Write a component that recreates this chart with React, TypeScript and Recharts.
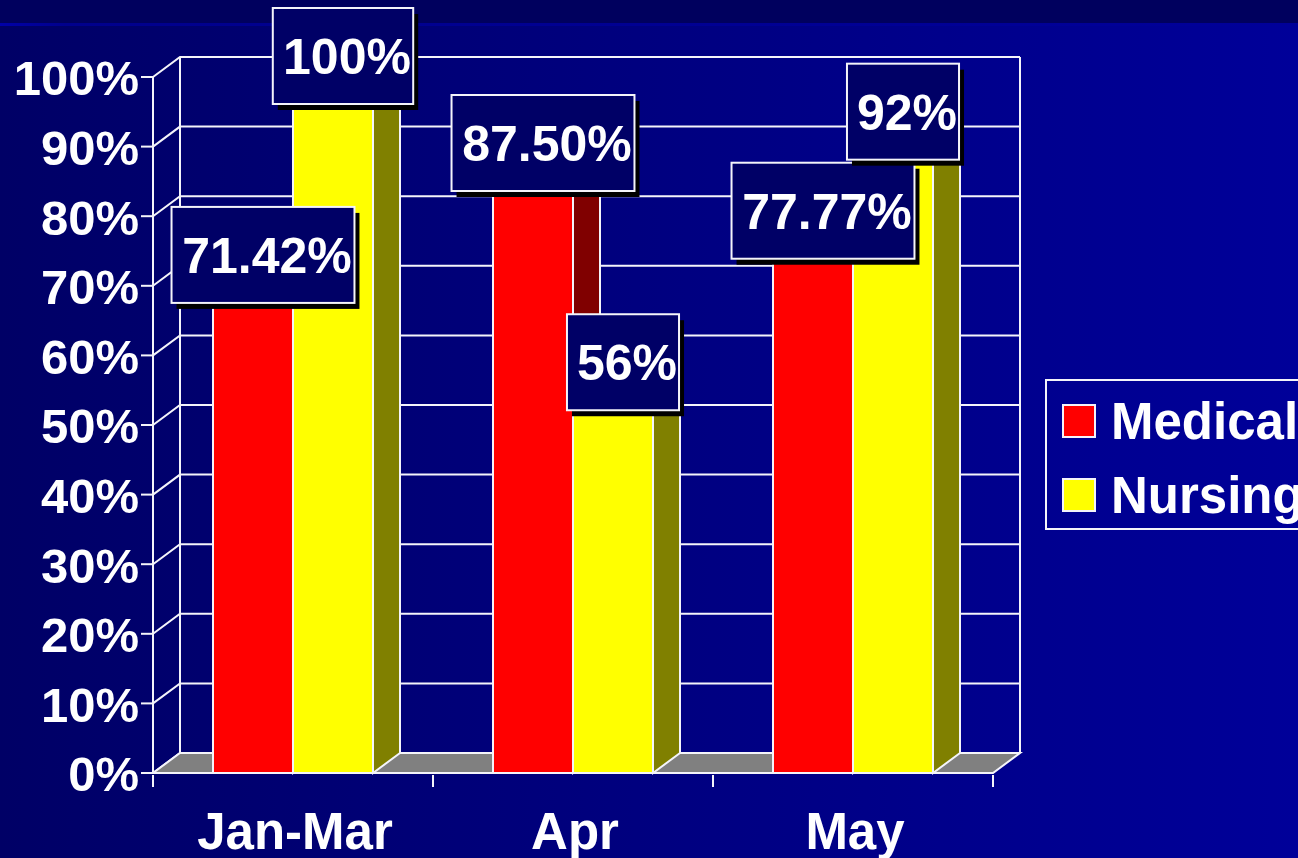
import {
  Bar,
  BarChart,
  CartesianGrid,
  LabelList,
  Legend,
  XAxis,
  YAxis,
  usePlotArea,
} from 'recharts'

const categories = ['Jan-Mar', 'Apr', 'May']
const medical = [71.42, 87.5, 77.77]
const nursing = [100, 56, 92]
const percentTicks = [0, 10, 20, 30, 40, 50, 60, 70, 80, 90, 100]

const data = categories.map((name, i) => ({ name, medical: medical[i], nursing: nursing[i] }))

const FONT = '"Liberation Sans", Arial, sans-serif'
const DEPTH_X = 27
const DEPTH_Y = 20
const LINE = '#f4f4fa'

function formatValue(value: number) {
  return Number.isInteger(value) ? `${value}%` : `${value.toFixed(2)}%`
}

function Floor() {
  const plot = usePlotArea()
  if (!plot) return null
  const left = plot.x
  const right = plot.x + plot.width
  const bottom = plot.y + plot.height
  const top = plot.y
  return (
    <g>
      <polygon
        points={`${left},${bottom} ${right},${bottom} ${right + DEPTH_X},${bottom - DEPTH_Y} ${left + DEPTH_X},${bottom - DEPTH_Y}`}
        fill="#808080"
        stroke={LINE}
        strokeWidth={2}
      />
      <line x1={left + DEPTH_X} x2={left + DEPTH_X} y1={top - DEPTH_Y} y2={bottom - DEPTH_Y} stroke={LINE} strokeWidth={2} />
      <line x1={right + DEPTH_X} x2={right + DEPTH_X} y1={top - DEPTH_Y} y2={bottom - DEPTH_Y} stroke={LINE} strokeWidth={2} />
    </g>
  )
}

// wall line: runs up the side wall, then along the back
function GridLine(props: any) {
  const { x1, x2, y1, y2 } = props
  return (
    <polyline
      points={`${x1},${y1} ${x1 + DEPTH_X},${y1 - DEPTH_Y} ${x2 + DEPTH_X},${y2 - DEPTH_Y}`}
      fill="none"
      stroke={LINE}
      strokeWidth={2}
    />
  )
}

function Bar3D(props: any) {
  const { x, y, width, height, fill, side } = props
  const r = x + width
  const b = y + height
  return (
    <g stroke={LINE} strokeWidth={2}>
      <polygon
        points={`${r},${y} ${r + DEPTH_X},${y - DEPTH_Y} ${r + DEPTH_X},${b - DEPTH_Y} ${r},${b}`}
        fill={side}
      />
      <polygon
        points={`${x},${y} ${x + DEPTH_X},${y - DEPTH_Y} ${r + DEPTH_X},${y - DEPTH_Y} ${r},${y}`}
        fill={side}
      />
      <rect x={x} y={y} width={width} height={height} fill={fill} />
    </g>
  )
}

function ValueLabel(props: any) {
  const { x, y, width, value } = props
  const text = formatValue(Number(value))
  const digits = text.replace(/[^0-9]/g, '').length
  const dots = text.includes('.') ? 1 : 0
  const boxWidth = 10 + 51 * (0.556 * digits + 0.278 * dots + 0.889)
  const boxHeight = 96
  const cx = x + width / 2 + 10
  const cy = y - 21
  return (
    <g>
      <rect x={cx - boxWidth / 2 + 5} y={cy - boxHeight / 2 + 6} width={boxWidth} height={boxHeight} fill="#000" />
      <rect
        x={cx - boxWidth / 2}
        y={cy - boxHeight / 2}
        width={boxWidth}
        height={boxHeight}
        fill="#000066"
        stroke={LINE}
        strokeWidth={2}
      />
      <text x={cx + 4} y={cy + 18} textAnchor="middle" fontFamily={FONT} fontWeight={700} fontSize={50} fill="#fff">
        {text}
      </text>
    </g>
  )
}

function CategoryTick(props: any) {
  const { x, y, payload } = props
  const half = payload.offset ?? 140
  return (
    <g>
      <line x1={x - half} x2={x - half} y1={y} y2={y + 12} stroke={LINE} strokeWidth={2} />
      <line x1={x + half} x2={x + half} y1={y} y2={y + 12} stroke={LINE} strokeWidth={2} />
      <text x={x + 2} y={y + 74} textAnchor="middle" fontFamily={FONT} fontWeight={700} fontSize={51} fill="#fff">
        {payload.value}
      </text>
    </g>
  )
}

function LegendBox({ payload }: any) {
  return (
    <div
      style={{
        position: 'relative',
        width: 300,
        height: 147,
        border: `2px solid ${LINE}`,
        fontFamily: FONT,
        fontWeight: 700,
        fontSize: 51,
        color: '#fff',
      }}
    >
      {(payload ?? []).map((entry: any, i: number) => (
        <div key={entry.value} style={{ position: 'absolute', left: 15, top: 23 + i * 74, display: 'flex', alignItems: 'center', height: 34 }}>
          <span
            style={{
              display: 'inline-block',
              width: 30,
              height: 30,
              background: entry.color,
              border: `2px solid ${LINE}`,
              marginRight: 15,
              flex: 'none',
            }}
          />
          <span style={{ lineHeight: '34px', whiteSpace: 'nowrap', position: 'relative', top: 1 }}>{entry.value}</span>
        </div>
      ))}
    </div>
  )
}

export default function App() {
  return (
    <div
      style={{
        position: 'absolute',
        left: 0,
        top: 0,
        width: 1298,
        height: 858,
        overflow: 'hidden',
        background: 'linear-gradient(90deg, #000066 0%, #000099 100%)',
      }}
    >
      <div style={{ position: 'absolute', left: 0, top: 0, width: 1298, height: 23, background: '#00005e' }} />
      <div
        style={{
          position: 'absolute',
          left: 0,
          top: 23,
          width: 1298,
          height: 3,
          background: 'linear-gradient(90deg, #0000a8 0%, #00008c 5%, #000099 100%)',
        }}
      />
      <BarChart
        width={1298}
        height={858}
        data={data}
        margin={{ top: 77, right: 305, bottom: 0, left: 0 }}
        barSize={80}
        barGap={0}
        style={{ position: 'absolute', left: 0, top: 0 }}
      >
        <Floor />
        <CartesianGrid vertical={false} horizontal={GridLine as any} />
        <XAxis
          dataKey="name"
          height={85}
          interval={0}
          axisLine={{ stroke: LINE, strokeWidth: 2 }}
          tickLine={false}
          tickSize={0}
          tick={CategoryTick as any}
        />
        <YAxis
          width={153}
          domain={[0, 100]}
          ticks={percentTicks}
          interval={0}
          tickFormatter={(v: number) => `${v}%`}
          axisLine={{ stroke: LINE, strokeWidth: 2 }}
          tickLine={{ stroke: LINE, strokeWidth: 2 }}
          tickSize={12}
          tickMargin={2}
          tick={{ fill: '#fff', fontFamily: FONT, fontWeight: 700, fontSize: 49, dy: 1 }}
        />
        <Legend
          layout="vertical"
          align="center"
          verticalAlign="middle"
          wrapperStyle={{ left: 1045, top: 379, width: 300 }}
          content={LegendBox as any}
        />
        <Bar
          dataKey="medical"
          name="Medical"
          fill="#ff0000"
          isAnimationActive={false}
          shape={(p: any) => <Bar3D {...p} side="#800000" />}
        >
          <LabelList dataKey="medical" content={ValueLabel as any} />
        </Bar>
        <Bar
          dataKey="nursing"
          name="Nursing"
          fill="#ffff00"
          isAnimationActive={false}
          shape={(p: any) => <Bar3D {...p} side="#808000" />}
        >
          <LabelList dataKey="nursing" content={ValueLabel as any} />
        </Bar>
      </BarChart>
    </div>
  )
}
